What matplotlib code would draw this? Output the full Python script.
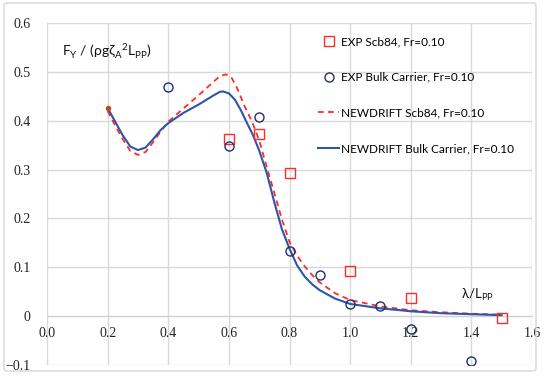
import numpy as np
import matplotlib.pyplot as plt
from matplotlib.lines import Line2D
from matplotlib.patches import FancyBboxPatch

# experimental points
exp_scb_x = [0.6, 0.7, 0.8, 1.0, 1.2, 1.5]
exp_scb_y = [0.363, 0.372, 0.293, 0.093, 0.037, -0.004]
exp_bulk_x = [0.4, 0.6, 0.7, 0.8, 0.9, 1.0, 1.1, 1.2, 1.4]
exp_bulk_y = [0.470, 0.349, 0.408, 0.133, 0.084, 0.025, 0.020, -0.026, -0.092]

# NEWDRIFT curves
nd_scb_x = [0.20, 0.225, 0.25, 0.275, 0.30, 0.325, 0.35, 0.375, 0.40, 0.45, 0.50, 0.55, 0.57, 0.59, 0.61,
            0.63, 0.65, 0.675, 0.70, 0.725, 0.75, 0.775, 0.80, 0.825, 0.85, 0.875, 0.90, 0.95, 1.00,
            1.10, 1.20, 1.30, 1.40, 1.50]
nd_scb_y = [0.420, 0.390, 0.362, 0.338, 0.330, 0.336, 0.356, 0.378, 0.398, 0.425, 0.452, 0.480, 0.491,
            0.495, 0.487, 0.463, 0.432, 0.400, 0.360, 0.305, 0.252, 0.198, 0.152, 0.124, 0.102, 0.084,
            0.069, 0.047, 0.033, 0.020, 0.012, 0.008, 0.005, 0.003]
nd_bulk_x = [0.20, 0.225, 0.25, 0.275, 0.30, 0.325, 0.35, 0.375, 0.40, 0.45, 0.50, 0.55, 0.57, 0.58, 0.60,
             0.62, 0.64, 0.66, 0.68, 0.70, 0.725, 0.75, 0.775, 0.80, 0.825, 0.85, 0.875, 0.90, 0.95,
             1.00, 1.10, 1.20, 1.30, 1.40, 1.50]
nd_bulk_y = [0.426, 0.398, 0.370, 0.347, 0.340, 0.345, 0.362, 0.381, 0.395, 0.416, 0.433, 0.452, 0.459,
             0.460, 0.456, 0.443, 0.421, 0.395, 0.370, 0.339, 0.293, 0.233, 0.178, 0.138, 0.104, 0.081,
             0.065, 0.053, 0.036, 0.025, 0.016, 0.010, 0.006, 0.004, 0.002]
start_x = [0.2]
start_y = [0.426]

xticks = [0.0, 0.2, 0.4, 0.6, 0.8, 1.0, 1.2, 1.4, 1.6]
yticks = [-0.1, 0.0, 0.1, 0.2, 0.3, 0.4, 0.5, 0.6]
ytick_labels = ['\u22120.1', '0', '0.1', '0.2', '0.3', '0.4', '0.5', '0.6']

red = '#ff2b2b'
blue = '#2f55a4'
navy = '#1f2f6e'
sans = 'Lato'
serif = 'Liberation Serif'

fig = plt.figure(figsize=(5.5, 3.84), dpi=100)
ax = fig.add_axes([47 / 550, 1 - 365 / 384, 485 / 550, 342 / 384])

fig.patches.append(FancyBboxPatch((4 / 550, 1 - 371 / 384), 532 / 550, 368 / 384,
                                  boxstyle='round,pad=0,rounding_size=0.006',
                                  transform=fig.transFigure, fill=False,
                                  edgecolor='#d6d6d6', linewidth=1.0))

ax.plot(nd_scb_x, nd_scb_y, color=red, lw=1.3, dashes=(3.2, 2.4), zorder=3)
ax.plot(nd_bulk_x, nd_bulk_y, color=blue, lw=1.5, zorder=4)
ax.plot(exp_scb_x, exp_scb_y, ls='none', marker='s', ms=6.5, mfc='none', mec=red, mew=1.0, zorder=5)
ax.plot(exp_bulk_x, exp_bulk_y, ls='none', marker='o', ms=6.5, mfc='none', mec=navy, mew=1.0, zorder=5)
ax.plot(start_x, start_y, ls='none', marker='o', ms=3, color='#b5521b', zorder=6)

for s in ['top', 'right', 'left']:
    ax.spines[s].set_visible(False)
ax.spines['bottom'].set_position(('data', 0))
ax.spines['bottom'].set_color('#d0d0d0')

ax.set_xlim(0, 1.6)
ax.set_ylim(-0.1, 0.6)
ax.set_xticks(xticks, [f'{v:.1f}' for v in xticks])
ax.set_yticks(yticks, ytick_labels)
ax.grid(True, color='#d9d9d9', lw=1.0)
ax.set_axisbelow(True)
ax.tick_params(length=0, colors='#222222', labelfontfamily=serif, labelsize=10)
ax.tick_params(axis='y', pad=12)
ax.tick_params(axis='x', pad=8)

ax.text(0.05, 0.543, r'F$_\mathregular{Y}$ / (ρgζ$_\mathregular{A}$$^\mathregular{2}$L$_\mathregular{PP}$)',
        family=sans, fontsize=10, va='center', ha='left', color='#111111')
ax.text(1.365, 0.043, r'λ/L$_\mathregular{PP}$', family=sans, fontsize=9.5, va='center', ha='left',
        color='#111111')

handles = [
    Line2D([], [], ls='none', marker='s', ms=6.5, mfc='none', mec=red, mew=1.0),
    Line2D([], [], ls='none', marker='o', ms=6.5, mfc='none', mec=navy, mew=1.0),
    Line2D([], [], color=red, lw=1.3, dashes=(3.2, 2.4)),
    Line2D([], [], color=blue, lw=1.5),
]
labels = ['EXP Scb84, Fr=0.10', 'EXP Bulk Carrier, Fr=0.10',
          'NEWDRIFT Scb84, Fr=0.10', 'NEWDRIFT Bulk Carrier, Fr=0.10']
fig.legend(handles, labels, loc='upper left', bbox_to_anchor=(318 / 550, 1 - 36 / 384),
           frameon=False, prop={'family': sans, 'size': 8.5}, handlelength=1.8,
           handletextpad=0.15, labelspacing=2.1, borderpad=0, borderaxespad=0)

fig.savefig('out.png', dpi=100)
